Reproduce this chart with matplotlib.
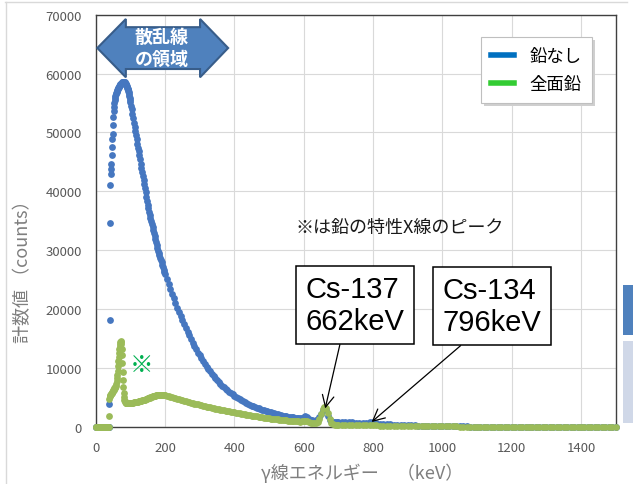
import numpy as np
import matplotlib.pyplot as plt
import matplotlib.patches as mpatches
import matplotlib.transforms as mtransforms
from matplotlib.lines import Line2D

plt.rcParams['font.family'] = ['Noto Sans CJK JP', 'DejaVu Sans']

# エネルギーのチャンネル (keV)
e_low = np.arange(0, 36, 2)
e_peak = np.arange(36, 100, 1)
e_mid = np.arange(100, 200, 2)
e_tail = np.arange(200, 700, 5)
e_high = np.arange(700, 1501, 10)

# 鉛なし (counts)
nashi_low = [0, 0, 0, 0, 0, 0, 0, 0, 0, 0, 0, 0, 0, 0, 0, 0, 0, 0]
nashi_peak = [0, 0, 0, 3860, 18100, 34600, 41000, 43000, 43800, 44600,
              46200, 47500, 48800, 49800, 51200, 52600, 53600, 54400, 55000, 55500,
              55900, 56200, 56500, 56700, 56900, 57100, 57200, 57300, 57500, 57600,
              57700, 57800, 57900, 58000, 58100, 58150, 58200, 58300, 58300, 58400,
              58400, 58500, 58500, 58600, 58600, 58500, 58600, 58550, 58500, 58400,
              58300, 58200, 58050, 57900, 57750, 57600, 57450, 57300, 57100, 56800,
              56500, 56150, 55800, 55450]
nashi_mid = [55100, 54500, 53900, 53200, 52400, 51600, 50900, 50200, 49500, 48800,
             48100, 47400, 46800, 46100, 45400, 44700, 44000, 43300, 42600, 41900,
             41200, 40500, 39800, 39100, 38400, 37700, 37100, 36500, 35900, 35400,
             34900, 34400, 33900, 33400, 32900, 32400, 31900, 31400, 30900, 30400,
             29900, 29500, 29100, 28700, 28300, 27900, 27500, 27100, 26700, 26300]
nashi_tail = [26000, 25100, 24200, 23400, 22600, 21800, 21000, 20200, 19500, 18800,
              18100, 17400, 16700, 16100, 15500, 14900, 14300, 13700, 13200, 12600,
              12100, 11600, 11100, 10700, 10200, 9800, 9400, 9000, 8600, 8300,
              7900, 7600, 7300, 7000, 6700, 6400, 6200, 5900, 5700, 5500,
              5300, 5100, 4900, 4700, 4500, 4350, 4200, 4050, 3900, 3750,
              3600, 3450, 3350, 3200, 3100, 3000, 2900, 2800, 2700, 2600,
              2500, 2420, 2340, 2260, 2180, 2100, 2030, 1960, 1900, 1840,
              1780, 1720, 1670, 1620, 1570, 1520, 1480, 1440, 1420, 1500,
              1650, 1750, 1600, 1350, 1200, 1100, 1050, 1100, 1250, 1600,
              2200, 2900, 3100, 2800, 1900, 1200, 950, 850, 820, 800]
nashi_high = [790, 780, 760, 740, 720, 700, 690, 680, 700, 760,
              780, 600, 500, 450, 420, 390, 360, 330, 300, 270,
              250, 230, 210, 200, 190, 180, 170, 160, 150, 140,
              130, 120, 110, 100, 90, 80, 60, 40, 30, 20,
              15, 15, 15, 15, 15, 15, 15, 15, 15, 15,
              15, 15, 15, 15, 15, 15, 15, 15, 15, 15,
              10, 10, 10, 10, 10, 10, 10, 10, 10, 10,
              10, 10, 10, 10, 10, 10, 10, 10, 10, 10,
              10]

# 全面鉛 (counts)
zen_low = [0, 0, 0, 0, 0, 0, 0, 0, 0, 0, 0, 0, 0, 0, 0, 0, 0, 0]
zen_peak = [0, 0, 1870, 4700, 5200, 5300, 5400, 5500, 5500, 5600,
            5700, 5800, 5900, 6000, 6100, 6200, 6300, 6400, 6500, 6600,
            6700, 6800, 7000, 7300, 7700, 8200, 8800, 9500, 10300, 11100,
            11900, 12600, 13200, 13700, 14100, 14400, 14500, 14400, 14000, 13200,
            12100, 10800, 9300, 7900, 6700, 5700, 5000, 4600, 4300, 4200,
            4100, 4050, 4000, 4000, 4000, 4000, 4000, 4000, 4000, 4000,
            4000, 4000, 4000, 4000]
zen_mid = [4020, 4040, 4060, 4080, 4100, 4120, 4140, 4160, 4180, 4200,
           4230, 4260, 4290, 4320, 4350, 4380, 4420, 4460, 4500, 4540,
           4580, 4620, 4660, 4700, 4750, 4800, 4850, 4900, 4950, 5000,
           5050, 5100, 5140, 5180, 5220, 5260, 5290, 5320, 5350, 5370,
           5390, 5410, 5420, 5430, 5440, 5440, 5440, 5430, 5420, 5400]
zen_tail = [5380, 5300, 5220, 5130, 5040, 4950, 4860, 4770, 4680, 4590,
            4500, 4420, 4340, 4260, 4180, 4100, 4020, 3940, 3860, 3780,
            3700, 3630, 3560, 3490, 3420, 3350, 3280, 3210, 3140, 3070,
            3000, 2940, 2880, 2820, 2760, 2700, 2650, 2600, 2550, 2500,
            2450, 2390, 2330, 2270, 2210, 2150, 2100, 2050, 2000, 1950,
            1900, 1850, 1800, 1750, 1700, 1650, 1600, 1550, 1500, 1450,
            1420, 1380, 1340, 1300, 1260, 1230, 1200, 1170, 1140, 1110,
            1080, 1050, 1020, 990, 960, 940, 920, 900, 880, 900,
            1000, 1050, 950, 800, 700, 650, 650, 700, 850, 1250,
            2100, 3000, 3400, 3200, 2300, 1300, 650, 420, 350, 320]
zen_high = [300, 290, 280, 270, 260, 250, 240, 240, 260, 330,
            350, 240, 180, 150, 130, 120, 110, 100, 90, 80,
            75, 70, 65, 60, 55, 50, 50, 45, 45, 40,
            40, 40, 35, 35, 35, 30, 30, 30, 30, 30,
            30, 30, 30, 30, 30, 30, 30, 30, 30, 30,
            25, 25, 25, 25, 25, 25, 25, 25, 25, 25,
            25, 25, 25, 25, 25, 25, 25, 25, 25, 25,
            20, 20, 20, 20, 20, 20, 20, 20, 20, 20,
            20]

series_names = ['鉛なし', '全面鉛']
peak_labels = ['Cs-137\n662keV', 'Cs-134\n796keV']
peak_energy = [662, 796]
peak_tip_counts = [3100, 800]

energy = np.concatenate([e_low, e_peak, e_mid, e_tail, e_high])
nashi = np.concatenate([nashi_low, nashi_peak, nashi_mid, nashi_tail, nashi_high])
zen = np.concatenate([zen_low, zen_peak, zen_mid, zen_tail, zen_high])

W, H = 633, 485
fig = plt.figure(figsize=(W / 100, H / 100), dpi=100)
ax = fig.add_axes([95.7 / W, 1 - 427.7 / H, 520 / W, 412 / H])

ax.scatter(energy, nashi, s=24, color='#4677C0', linewidths=0, clip_on=False, zorder=3)
ax.scatter(energy, zen, s=24, color='#9BBB59', linewidths=0, clip_on=False, zorder=4)

ax.set_xlim(0, 1500)
ax.set_ylim(0, 70000)
ax.set_xticks(np.arange(0, 1401, 200))
ax.set_yticks(np.arange(0, 70001, 10000))
ax.grid(color='#D9D9D9', lw=0.8)
ax.set_axisbelow(True)
ax.tick_params(length=0, pad=10, labelsize=9.5, labelcolor='#595959')
for sp in ax.spines.values():
    sp.set_color('#404040')
    sp.set_linewidth(1.0)

fig.text(23 / W, 1 - 267 / H, '計数値 （counts）', rotation=90, ha='center', va='center',
         fontsize=13, color='#7f7f7f')
fig.text(362 / W, 1 - 473 / H, 'γ線エネルギー　（keV）', ha='center', va='center',
         fontsize=13, color='#7f7f7f')

# 凡例 (薄い影は後で手描き)
handles = [Line2D([], [], color='#0070C0', lw=4), Line2D([], [], color='#33CC33', lw=4)]
leg = ax.legend(handles, series_names, loc='upper left',
                bbox_to_anchor=(481 / W, 1 - 38 / H), bbox_transform=fig.transFigure,
                borderaxespad=0, fontsize=12.5, handlelength=1.3, handletextpad=0.9,
                labelspacing=0.55, borderpad=0.6, fancybox=False, shadow=False,
                framealpha=1, edgecolor='#BFBFBF')
leg.get_frame().set_linewidth(0.8)

# 散乱線の領域 (両矢印)
arrow_xy = [(4.6, 64340), (87, 69270), (87, 67880), (301, 67880), (301, 69270),
            (382, 64340), (301, 59360), (301, 60770), (87, 60770), (87, 59360)]
ax.add_patch(mpatches.Polygon(arrow_xy, closed=True, facecolor='#4F81BD',
                              edgecolor='#385D8A', lw=1.5, clip_on=False, zorder=6))
ax.text(191, 64500, '散乱線\nの領域', ha='center', va='center', color='white',
        fontsize=13, fontweight='bold', linespacing=1.2, zorder=7)

ax.text(575, 33900, '※は鉛の特性X線のピーク', ha='left', va='center', fontsize=13,
        color='#1a1a1a')
ax.text(133, 10530, '※', ha='center', va='center', fontsize=17, color='#00B050')

# Cs ピークの注記
box_pos = [(748, 20670), (1143, 20500)]
relx = [0.37, 0.30]
for lab, ex, ey, (tx, ty), rx in zip(peak_labels, peak_energy, peak_tip_counts, box_pos, relx):
    ax.annotate(lab, xy=(ex, ey), xytext=(tx, ty), ha='center', va='center',
                family=['Liberation Sans', 'DejaVu Sans'], fontsize=21,
                multialignment='left', linespacing=1.15,
                bbox=dict(boxstyle='square,pad=0.32', fc='white', ec='black', lw=1.1),
                arrowprops=dict(arrowstyle='->', color='black', lw=0.9,
                                relpos=(rx, 0), shrinkA=0, shrinkB=0),
                zorder=8)

# 凡例の影
fig.canvas.draw()
bb = leg.get_window_extent()
ax.add_artist(mpatches.Rectangle((bb.x0 + 3, bb.y0 - 3), bb.width, bb.height,
                                 transform=mtransforms.IdentityTransform(),
                                 facecolor='#CFCFCF', lw=0, zorder=4.9, clip_on=False))

# 外枠と右端の図形
fig.add_artist(Line2D([5 / W, 627 / W], [1 - 3 / H, 1 - 3 / H], color='#D9D9D9', lw=1))
fig.add_artist(Line2D([6 / W, 6 / W], [1 - 3 / H, 0], color='#D9D9D9', lw=1))
fig.add_artist(mpatches.Rectangle((622.7 / W, 1 - 336 / H), 11 / W, 50 / H,
                                  transform=fig.transFigure, color='#4F81BD', lw=0))
fig.add_artist(mpatches.Rectangle((622.7 / W, 1 - 424 / H), 11 / W, 82 / H,
                                  transform=fig.transFigure, color='#D0D8E8', lw=0))

fig.savefig('out.png', dpi=100)
